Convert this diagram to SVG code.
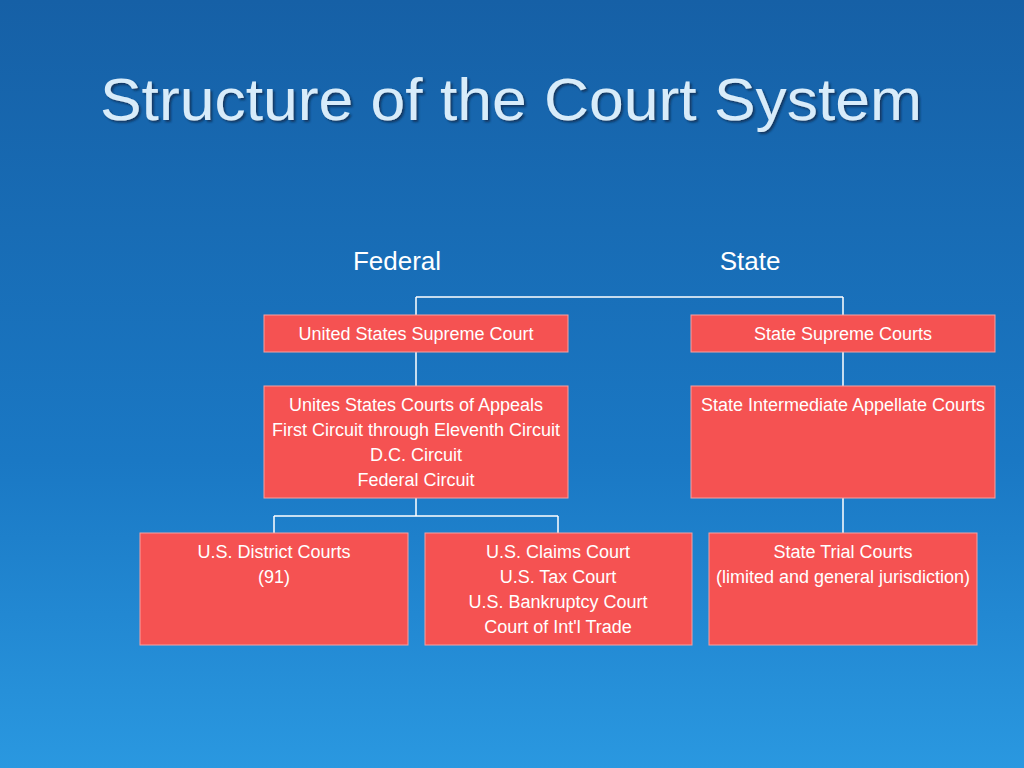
<svg xmlns="http://www.w3.org/2000/svg" width="1024" height="768" viewBox="0 0 1024 768">
<defs>
<linearGradient id="bg" x1="0" y1="0" x2="0" y2="1">
<stop offset="0" stop-color="#1660a6"/>
<stop offset="0.6" stop-color="#1a78c4"/>
<stop offset="1" stop-color="#2a98e0"/>
</linearGradient>
<filter id="sh"><feDropShadow dx="2" dy="2" stdDeviation="1" flood-color="#0a2a50" flood-opacity="0.8"/></filter>
</defs>
<style>
.box{fill:#f55252;stroke:#f7a0a0;stroke-width:1}
.t{font-family:"Liberation Sans Narrow","Liberation Sans",Arial,sans-serif;font-size:18px;fill:#ffffff;text-anchor:middle}
.h{font-family:"Liberation Sans Narrow","Liberation Sans",Arial,sans-serif;font-size:26px;fill:#ffffff;text-anchor:middle}
.c{stroke:#ffffff;stroke-width:1.5;fill:none}
</style>
<rect width="1024" height="768" fill="url(#bg)"/>
<text x="100" y="120" font-family="Liberation Sans,Arial,sans-serif" font-size="60" fill="#d8ecfa" filter="url(#sh)" textLength="822" lengthAdjust="spacingAndGlyphs">Structure of the Court System</text>
<text class="h" x="397" y="270">Federal</text>
<text class="h" x="750" y="270">State</text>
<g id="connectors">
<path class="c" d="M416 297H843M416 297V315M843 297V315M416 352V386M843 352V386M416 498V516M274 516H558M274 516V533M558 516V533M843 498V533"/>
</g>
<g id="us-supreme"><rect class="box" x="264" y="315" width="304" height="37"/><text class="t" x="416" y="340">United States Supreme Court</text></g>
<g id="state-supreme"><rect class="box" x="691" y="315" width="304" height="37"/><text class="t" x="843" y="340">State Supreme Courts</text></g>
<g id="us-appeals"><rect class="box" x="264" y="386" width="304" height="112"/>
<text class="t" x="416" y="411">Unites States Courts of Appeals</text>
<text class="t" x="416" y="436">First Circuit through Eleventh Circuit</text>
<text class="t" x="416" y="461">D.C. Circuit</text>
<text class="t" x="416" y="486">Federal Circuit</text></g>
<g id="state-intermediate"><rect class="box" x="691" y="386" width="304" height="112"/><text class="t" x="843" y="411">State Intermediate Appellate Courts</text></g>
<g id="district"><rect class="box" x="140" y="533" width="268" height="112"/>
<text class="t" x="274" y="558">U.S. District Courts</text><text class="t" x="274" y="583">(91)</text></g>
<g id="claims"><rect class="box" x="425" y="533" width="267" height="112"/>
<text class="t" x="558" y="558">U.S. Claims Court</text>
<text class="t" x="558" y="583">U.S. Tax Court</text>
<text class="t" x="558" y="608">U.S. Bankruptcy Court</text>
<text class="t" x="558" y="633">Court of Int'l Trade</text></g>
<g id="state-trial"><rect class="box" x="709" y="533" width="268" height="112"/>
<text class="t" x="843" y="558">State Trial Courts</text><text class="t" x="843" y="583">(limited and general jurisdiction)</text></g>
</svg>
